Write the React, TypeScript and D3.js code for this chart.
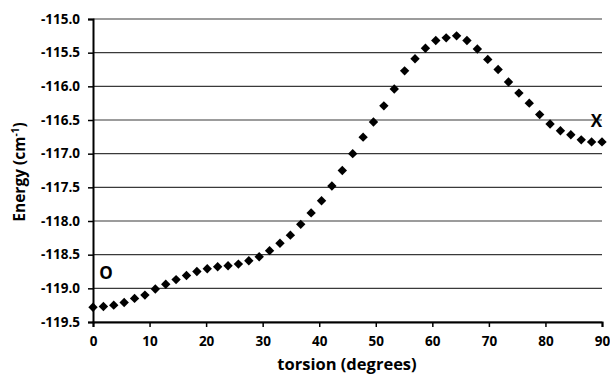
import * as d3 from "d3";
import React, { useEffect, useRef } from "react";

// torsion angles (degrees), 50 points from 0 to 90
const torsion = [
  0, 1.84, 3.67, 5.51, 7.35, 9.18, 11.02, 12.86, 14.69, 16.53,
  18.37, 20.2, 22.04, 23.88, 25.71, 27.55, 29.39, 31.22, 33.06, 34.9,
  36.73, 38.57, 40.41, 42.24, 44.08, 45.92, 47.76, 49.59, 51.43, 53.27,
  55.1, 56.94, 58.78, 60.61, 62.45, 64.29, 66.12, 67.96, 69.8, 71.63,
  73.47, 75.31, 77.14, 78.98, 80.82, 82.65, 84.49, 86.33, 88.16, 90,
];

// energy (cm-1)
const energy = [
  -119.28, -119.27, -119.25, -119.21, -119.15, -119.1, -119.01, -118.94, -118.87, -118.81,
  -118.75, -118.71, -118.68, -118.665, -118.64, -118.59, -118.53, -118.44, -118.33, -118.21,
  -118.05, -117.88, -117.7, -117.48, -117.25, -117.0, -116.755, -116.53, -116.29, -116.04,
  -115.77, -115.59, -115.435, -115.32, -115.28, -115.25, -115.32, -115.445, -115.6, -115.75,
  -115.935, -116.1, -116.25, -116.42, -116.56, -116.66, -116.72, -116.795, -116.825, -116.825,
];

const xTicks = [0, 10, 20, 30, 40, 50, 60, 70, 80, 90];
const yTicks = [-115, -115.5, -116, -116.5, -117, -117.5, -118, -118.5, -119, -119.5];

// point labels
const labels = [
  { text: "O", t: 2.3, e: -118.77 },
  { text: "X", t: 89.0, e: -116.51 },
];

const FONT = "'Open Sans', 'DejaVu Sans', sans-serif";

export default function App() {
  const svgRef = useRef<SVGSVGElement | null>(null);

  useEffect(() => {
    if (!svgRef.current) return;
    const svg = d3.select(svgRef.current);
    svg.selectAll("*").remove();

    const width = 610;
    const height = 374;
    const margin = { top: 19, right: 8, bottom: 52, left: 93 };

    const x = d3
      .scaleLinear()
      .domain([0, 90])
      .range([margin.left, width - margin.right]);

    const y = d3
      .scaleLinear()
      .domain([-119.5, -115])
      .range([height - margin.bottom, margin.top]);

    // gridlines
    svg
      .append("g")
      .selectAll("line")
      .data(yTicks)
      .enter()
      .append("line")
      .attr("x1", margin.left)
      .attr("x2", width - margin.right)
      .attr("y1", (d) => y(d))
      .attr("y2", (d) => y(d))
      .attr("stroke", "#3a3a3a")
      .attr("stroke-width", 1.2);

    // y axis (hyphen minus like the original)
    const yAxis = svg
      .append("g")
      .attr("transform", `translate(${margin.left},0)`)
      .call(
        d3
          .axisLeft(y)
          .tickValues(yTicks)
          .tickSize(5)
          .tickPadding(8)
          .tickFormat((d) => (d as number).toFixed(1))
      );
    yAxis.select(".domain").attr("stroke", "#000").attr("stroke-width", 2);
    yAxis.selectAll(".tick line").attr("stroke", "#000").attr("stroke-width", 1.5);
    yAxis
      .selectAll("text")
      .attr("fill", "#000")
      .style("font-family", FONT)
      .style("font-size", "13.5px")
      .style("font-weight", "700");

    // x axis
    const xAxis = svg
      .append("g")
      .attr("transform", `translate(0,${height - margin.bottom})`)
      .call(d3.axisBottom(x).tickValues(xTicks).tickSize(5).tickPadding(9));
    xAxis.select(".domain").attr("stroke", "#000").attr("stroke-width", 2);
    xAxis.selectAll(".tick line").attr("stroke", "#000").attr("stroke-width", 1.5);
    xAxis
      .selectAll("text")
      .attr("fill", "#000")
      .style("font-family", FONT)
      .style("font-size", "13.5px")
      .style("font-weight", "700");

    // points
    const diamond = d3.symbol().type(d3.symbolSquare).size(44);
    svg
      .append("g")
      .selectAll("path")
      .data(torsion)
      .enter()
      .append("path")
      .attr("d", diamond)
      .attr("transform", (d, i) => `translate(${x(d)},${y(energy[i])}) rotate(45)`)
      .attr("fill", "#000");

    // labels
    svg
      .append("g")
      .selectAll("text")
      .data(labels)
      .enter()
      .append("text")
      .attr("x", (d) => x(d.t))
      .attr("y", (d) => y(d.e))
      .attr("text-anchor", "middle")
      .attr("dominant-baseline", "central")
      .style("font-family", FONT)
      .style("font-size", "17px")
      .style("font-weight", "700")
      .text((d) => d.text);

    // x title
    svg
      .append("text")
      .attr("x", 347)
      .attr("y", 370)
      .attr("text-anchor", "middle")
      .style("font-family", FONT)
      .style("font-size", "16.5px")
      .style("font-weight", "700")
      .text("torsion (degrees)");

    // y title
    const yt = svg
      .append("text")
      .attr("transform", `translate(25,172) rotate(-90)`)
      .attr("text-anchor", "middle")
      .style("font-family", FONT)
      .style("font-size", "15.5px")
      .style("font-weight", "700");
    yt.append("tspan").text("Energy (cm");
    yt.append("tspan").attr("dy", -6).style("font-size", "10px").text("-1");
    yt.append("tspan").attr("dy", 6).text(")");
  }, []);

  return (
    <svg
      ref={svgRef}
      width={610}
      height={374}
      style={{ position: "absolute", left: 0, top: 0, background: "#fff" }}
    />
  );
}
